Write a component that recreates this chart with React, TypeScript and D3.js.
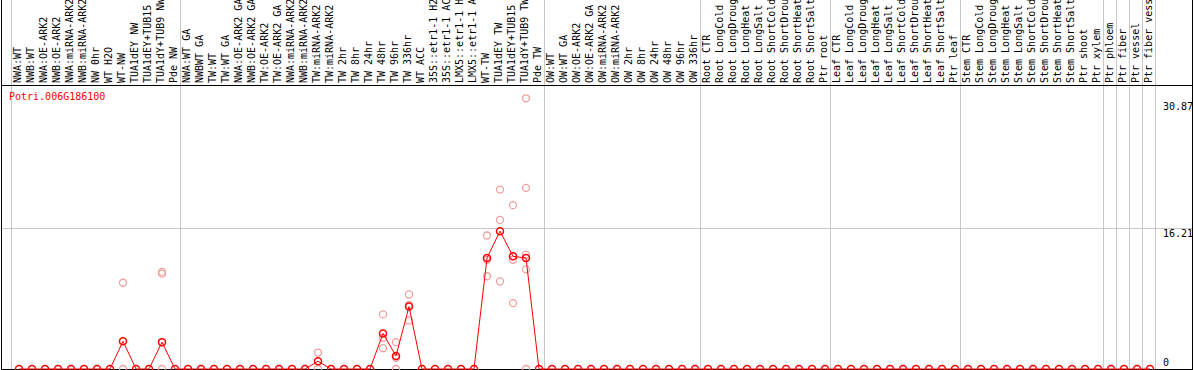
import React, { useEffect, useRef } from "react";
import * as d3 from "d3";

const geneName = "Potri.006G186100";

const sampleLabels: string[] = [
  "NWA:WT", "NWB:WT", "NWA:OE-ARK2", "NWB:OE-ARK2", "NWA:miRNA-ARK2", "NWB:miRNA-ARK2",
  "NW 0hr", "WT H2O", "WT-NW", "TUA1dEY NW", "TUA1dEY+TUB15 NW", "TUA1dY+TUB9 NW", "Pde NW",
  "NWA:WT GA", "NWBWT GA", "TW:WT", "TW:WT GA", "NWA:OE-ARK2 GA", "NWB:OE-ARK2 GA",
  "TW:OE-ARK2", "TW:OE-ARK2 GA", "NWA:miRNA-ARK2", "NWB:miRNA-ARK2", "TW:miRNA-ARK2",
  "TW:miRNA-ARK2", "TW 2hr", "TW 8hr", "TW 24hr", "TW 48hr", "TW 96hr", "TW 336hr",
  "WT ACC", "35S::etr1-1 H2O", "35S::etr1-1 ACC", "LMX5::etr1-1 H2O", "LMX5::etr1-1 ACC",
  "WT-TW", "TUA1dEY TW", "TUA1dEY+TUB15 TW", "TUA1dY+TUB9 TW", "Pde TW",
  "OW:WT", "OW:WT GA", "OW:OE-ARK2", "OW:OE-ARK2 GA", "OW:miRNA-ARK2", "OW:miRNA-ARK2",
  "OW 2hr", "OW 8hr", "OW 24hr", "OW 48hr", "OW 96hr", "OW 336hr",
  "Root CTR", "Root LongCold", "Root LongDrought", "Root LongHeat", "Root LongSalt",
  "Root ShortCold", "Root ShortDrought", "Root ShortHeat", "Root ShortSalt", "Ptr root",
  "Leaf CTR", "Leaf LongCold", "Leaf LongDrought", "Leaf LongHeat", "Leaf LongSalt",
  "Leaf ShortCold", "Leaf ShortDrought", "Leaf ShortHeat", "Leaf ShortSalt", "Ptr leaf",
  "Stem CTR", "Stem LongCold", "Stem LongDrought", "Stem LongHeat", "Stem LongSalt",
  "Stem ShortCold", "Stem ShortDrought", "Stem ShortHeat", "Stem ShortSalt", "Ptr shoot",
  "Ptr xylem", "Ptr phloem", "Ptr fiber", "Ptr vessel", "Ptr fiber vessel",
];

// mean expression per sample (same order as sampleLabels)
const meanValues: number[] = [
  0, 0, 0, 0, 0, 0, 0, 0, 3.2, 0, 0, 3.1, 0,
  0, 0, 0, 0, 0, 0, 0, 0, 0, 0, 0.9, 0, 0, 0, 0, 4.1, 1.5, 7.2, 0, 0, 0, 0, 0,
  12.8, 15.9, 13.0, 12.8, 0,
  0, 0, 0, 0, 0, 0, 0, 0, 0, 0, 0, 0,
  0, 0, 0, 0, 0, 0, 0, 0, 0, 0,
  0, 0, 0, 0, 0, 0, 0, 0, 0, 0,
  0, 0, 0, 0, 0, 0, 0, 0, 0, 0, 0,
  0, 0, 0, 0,
];

// individual replicate measurements: sample index + value
const replicateIndex: number[] = [
  8, 8, 11, 11, 11,
  23, 23,
  28, 28, 28,
  29, 29, 29,
  30, 30, 30,
  36, 36, 36,
  37, 37, 37,
  38, 38, 38,
  39, 39, 39, 39, 39,
];
const replicateValue: number[] = [
  9.95, 0, 11.2, 11.0, 0,
  1.9, 0,
  6.3, 3.6, 2.4,
  3.1, 1.3, 0,
  8.6, 7.4, 5.6,
  15.4, 12.6, 10.7,
  20.7, 17.2, 10.1,
  18.9, 12.6, 7.6,
  31.23, 20.9, 13.2, 11.5, 0,
];

const yTicks: number[] = [0, 16.21, 30.87];

// group boundaries (column indices where a grey separator is drawn)
const separators: number[] = [0, 13, 41, 53, 63, 73, 84, 85, 86, 87, 88];

const W = 1194;
const H = 370;
const MONO = "'DejaVu Sans Mono', monospace";

export default function App() {
  const ref = useRef<SVGSVGElement | null>(null);

  useEffect(() => {
    const svg = d3.select(ref.current);
    svg.selectAll("*").remove();

    const n = sampleLabels.length;
    const colW = 13;
    const left0 = 11;
    const edge = d3.scaleLinear().domain([0, n]).range([left0, left0 + n * colW]);
    const xPt = (i: number) => edge(i) + 8;
    const y = d3.scaleLinear().domain([0, 30.87]).range([369, 101.4]);

    svg.append("rect").attr("width", W).attr("height", H).attr("fill", "#fff");

    // grey separators
    svg.selectAll("line.sep").data(separators).enter().append("line")
      .attr("x1", (d) => edge(d) + 0.5).attr("x2", (d) => edge(d) + 0.5)
      .attr("y1", 0).attr("y2", H)
      .attr("stroke", "#c8c8c8").attr("stroke-width", 1);

    // grid line at middle tick
    svg.append("line")
      .attr("x1", 1).attr("x2", W - 1)
      .attr("y1", Math.round(y(16.21)) + 0.5).attr("y2", Math.round(y(16.21)) + 0.5)
      .attr("stroke", "#c8c8c8");

    // frame
    svg.append("line").attr("x1", 1.5).attr("x2", 1.5).attr("y1", 0).attr("y2", H)
      .attr("stroke", "#000");
    svg.append("line").attr("x1", W - 1.5).attr("x2", W - 1.5).attr("y1", 0).attr("y2", H)
      .attr("stroke", "#000");
    svg.append("line").attr("x1", 1).attr("x2", W - 1).attr("y1", 85.5).attr("y2", 85.5)
      .attr("stroke", "#000");
    svg.append("line").attr("x1", 1).attr("x2", W - 1).attr("y1", 369.5).attr("y2", 369.5)
      .attr("stroke", "#000");

    // column labels
    svg.selectAll("text.lab").data(sampleLabels).enter().append("text")
      .attr("transform", (_d, i) => `translate(${edge(i) + 10},83) rotate(-90)`)
      .attr("font-family", MONO).attr("font-size", 10).attr("fill", "#000")
      .text((d) => d);

    // y tick labels
    svg.selectAll("text.tick").data(yTicks).enter().append("text")
      .attr("x", 1163).attr("y", (d) => Math.min(y(d) + 9, 366))
      .attr("font-family", MONO).attr("font-size", 10).attr("fill", "#000")
      .text((d) => String(d));

    // gene name
    svg.append("text").attr("x", 9).attr("y", 100)
      .attr("font-family", MONO).attr("font-size", 10).attr("fill", "#ff0000")
      .text(geneName);

    // replicates
    svg.selectAll("circle.rep").data(replicateIndex).enter().append("circle")
      .attr("cx", (d) => xPt(d)).attr("cy", (_d, i) => y(replicateValue[i]))
      .attr("r", 3.5).attr("fill", "none").attr("stroke", "#eea0a0").attr("stroke-width", 1.3);

    // mean line
    const line = d3.line<number>().x((_d, i) => xPt(i)).y((d) => y(d));
    svg.append("path").attr("d", line(meanValues) || "")
      .attr("fill", "none").attr("stroke", "#ff0000").attr("stroke-width", 1);

    svg.selectAll("circle.mean").data(meanValues).enter().append("circle")
      .attr("cx", (_d, i) => xPt(i)).attr("cy", (d) => y(d))
      .attr("r", 3.5).attr("fill", "none").attr("stroke", "#ff0000").attr("stroke-width", 1.5);
  }, []);

  return (
    <svg
      ref={ref}
      width={W}
      height={H}
      style={{ position: "absolute", left: 0, top: 0, display: "block" }}
    />
  );
}
